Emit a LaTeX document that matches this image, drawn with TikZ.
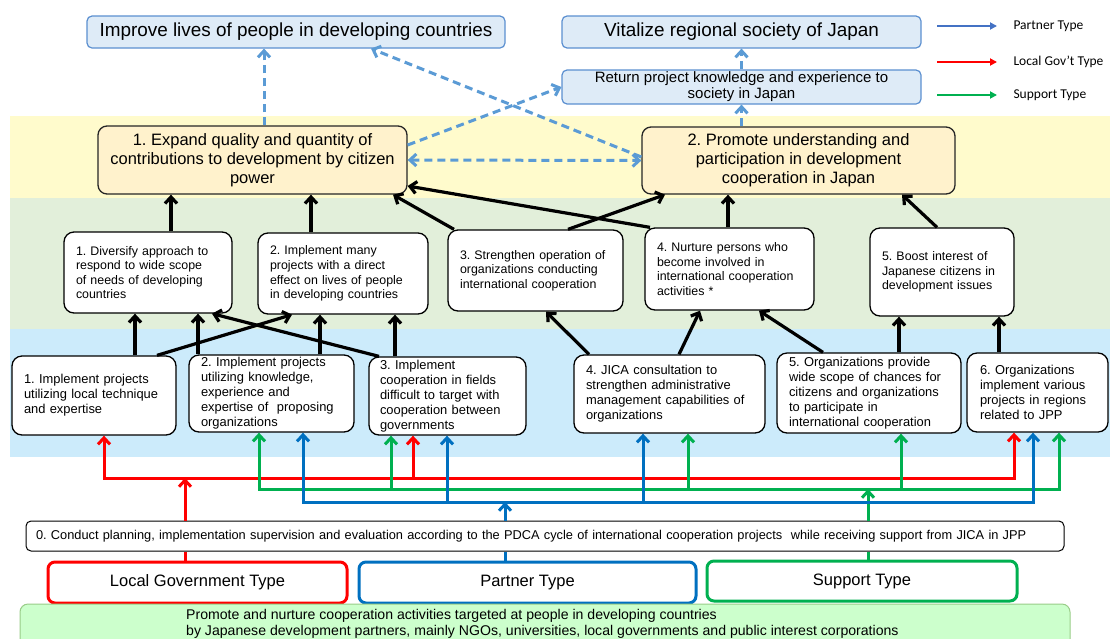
\documentclass[tikz,border=0pt]{standalone}
\usepackage{fontspec}
\setmainfont{Liberation Sans}
\newfontfamily\legfont{Carlito}
\usetikzlibrary{arrows.meta,positioning}
\frenchspacing

\definecolor{dashblue}{HTML}{5B9BD5}
\definecolor{topfill}{HTML}{DEEBF7}
\definecolor{topline}{HTML}{5B8FD0}
\definecolor{goalfill}{HTML}{FFF2CC}
\definecolor{bandyellow}{HTML}{FFFBCC}
\definecolor{bandgreen}{HTML}{E2EFDA}
\definecolor{bandblue}{HTML}{CCEBFB}
\definecolor{jred}{HTML}{FF0000}
\definecolor{jblue}{HTML}{0070C0}
\definecolor{jgreen}{HTML}{00B050}
\definecolor{legblue}{HTML}{4472C4}
\definecolor{botfill}{HTML}{CCFFCC}
\definecolor{botline}{HTML}{99CC88}

\tikzset{
  >={Straight Barb[length=6.5pt,width=12pt]},
  topbox/.style={draw=topline, fill=topfill, rounded corners=5pt, line width=1.2pt, align=center, inner sep=0pt},
  goalbox/.style={draw=black!85, fill=goalfill, rounded corners=9pt, line width=1.3pt, align=center, inner sep=0pt, font=\fontsize{16.5}{19}\selectfont},
  gbox/.style={draw=black, fill=white, rounded corners=10pt, line width=1.3pt, align=left, inner sep=0pt, font=\fontsize{12.4}{14.6}\selectfont},
  bbox/.style={draw=black, fill=white, rounded corners=10pt, line width=1.3pt, align=left, inner sep=0pt, font=\fontsize{12.9}{15}\selectfont},
  typebox/.style={fill=white, rounded corners=7pt, line width=3pt, inner sep=0pt, font=\fontsize{16.5}{19}\selectfont},
  legtext/.style={anchor=west, font=\legfont\fontsize{13.5}{16}\selectfont},
  blk/.style={line width=3.2pt, ->},
  dsh/.style={dashblue, line width=3pt, dash pattern=on 8pt off 5pt, ->},
  rarr/.style={jred, line width=3pt, ->},
  garr/.style={jgreen, line width=3pt, ->},
  barr/.style={jblue, line width=3pt, ->}
}

\begin{document}
\begin{tikzpicture}[x=1pt,y=-1pt]
\useasboundingbox (0,0) rectangle (1110,638);

% bands
\fill[bandyellow] (10,116) rectangle (1110,198);
\fill[bandgreen] (10,198) rectangle (1110,329);
\fill[bandblue] (10,329) rectangle (1110,457);

% top
\node[topbox, minimum width=418pt, minimum height=32pt, font=\fontsize{18.9}{22}\selectfont] (imp) at (296,32) {Improve lives of people in developing countries};
\node[topbox, minimum width=359pt, minimum height=32pt, font=\fontsize{18.9}{22}\selectfont] (vit) at (741.5,32) {Vitalize regional society of Japan};
\node[topbox, minimum width=359pt, minimum height=34pt, font=\fontsize{15}{16}\selectfont] (ret) at (741.5,87) {Return project knowledge and experience to\\society in Japan};

% legend
\coordinate (lp) at (937,26);
\coordinate (ll) at (937,62);
\coordinate (ls) at (937,95);
\node[legtext] (lpt) at (1010,26) {Partner Type};
\node[legtext] (llt) at (1010,62) {Local Gov’t Type};
\node[legtext] (lst) at (1010,95) {Support Type};
\draw[legblue, line width=2pt, -{Triangle[length=7pt,width=7pt]}, shorten >=13pt] (lp) -- (lpt.west);
\draw[jred, line width=2pt, -{Triangle[length=7pt,width=7pt]}, shorten >=13pt] (ll) -- (llt.west);
\draw[jgreen, line width=2pt, -{Triangle[length=7pt,width=7pt]}, shorten >=13pt] (ls) -- (lst.west);

% goals
\node[goalbox, minimum width=309pt, minimum height=68pt] (exp) at (252.5,160) {1. Expand quality and quantity of\\contributions to development by citizen\\power};
\node[goalbox, minimum width=313pt, minimum height=67pt] (pro) at (798.5,160.5) {2. Promote understanding and\\participation in development\\cooperation in Japan};

% middle row
\node[gbox, minimum width=168pt, minimum height=81pt, text width=144pt] (g1) at (148,272.5) {1. Diversify approach to\\respond to wide scope\\of needs of developing\\countries};
\node[gbox, minimum width=170pt, minimum height=81pt, text width=146pt] (g2) at (343,273.5) {2. Implement many\\projects with a direct\\effect on lives of people\\in developing countries};
\node[gbox, minimum width=175pt, minimum height=81pt, text width=151pt] (g3) at (535.5,270.5) {3. Strengthen operation of\\organizations conducting\\international cooperation};
\node[gbox, minimum width=169pt, minimum height=82pt, text width=145pt] (g4) at (729.5,269) {4. Nurture persons who\\become involved in\\international cooperation\\activities *};
\node[gbox, minimum width=144pt, minimum height=88pt, text width=120pt] (g5) at (942,272) {5. Boost interest of\\Japanese citizens in\\development issues};

% lower row
\node[bbox, minimum width=164pt, minimum height=79pt, text width=140pt] (b1) at (94,395.5) {1. Implement projects\\utilizing local technique\\and expertise};
\node[bbox, minimum width=165pt, minimum height=77pt, text width=141pt] (b2) at (271.5,393.5) {2. Implement projects\\utilizing knowledge,\\experience and\\expertise of\ \ proposing\\organizations};
\node[bbox, minimum width=157pt, minimum height=78pt, text width=135pt] (b3) at (447.5,396) {3. Implement\\cooperation in fields\\difficult to target with\\cooperation between\\governments};
\node[bbox, minimum width=191pt, minimum height=78pt, text width=167pt] (b4) at (669.5,394) {4. JICA consultation to\\strengthen administrative\\management capabilities of\\organizations};
\node[bbox, minimum width=184pt, minimum height=80pt, text width=160pt] (b5) at (869,393) {5. Organizations provide\\wide scope of chances for\\citizens and organizations\\to participate in\\international cooperation};
\node[bbox, minimum width=141pt, minimum height=79pt, text width=115pt] (b6) at (1037.5,392.5) {6. Organizations\\implement various\\projects in regions\\related to JPP};

% bottom
\node[draw, fill=white, rounded corners=5pt, line width=1pt, minimum width=1038pt, minimum height=30pt, text width=1018pt, align=left, inner sep=0pt, font=\fontsize{12.8}{14}\selectfont] (pdca) at (545,536) {0. Conduct planning, implementation supervision and evaluation according to the PDCA cycle of international cooperation projects \ while receiving support from JICA in JPP};
\node[typebox, draw=jred, minimum width=299pt, minimum height=41pt] (lg) at (197.5,582.5) {Local Government Type};
\node[typebox, draw=jblue, minimum width=337pt, minimum height=41pt] (pt) at (527.5,582.5) {Partner Type};
\node[typebox, draw=jgreen, minimum width=310pt, minimum height=40pt] (sp) at (862,581) {Support Type};
\draw[botline, fill=botfill, rounded corners=8pt, line width=1pt] (20,604) rectangle (1070,660);
\node[anchor=north west, align=left, inner sep=0pt, font=\fontsize{14.1}{16}\selectfont] (bot) at (186,609.5) {Promote and nurture cooperation activities targeted at people in developing countries\\by Japanese development partners, mainly NGOs, universities, local governments and public interest corporations};

% dashed links
\draw[dsh] (exp.north -| 264,0) -- (imp.south -| 264,0);
\draw[dsh] (pro.west |- 0,157) -- (imp.south -| 371,0);
\draw[dsh, <->] (exp.east) -- (pro.west);
\draw[dsh] (exp.east |- 0,145) -- (ret.west);
\draw[dsh] (pro.north -| ret.south) -- (ret.south);
\draw[dsh] (ret.north) -- (vit.south);

% middle -> goals
\draw[blk] (g1.north -| 171,0) -- (exp.south -| 171,0);
\draw[blk] (g2.north -| 311,0) -- (exp.south -| 311,0);
\draw[blk] (g3.north -| 454,0) -- (exp.south -| 393,0);
\draw[blk] (g4.north -| 650,0) -- (exp.east |- 0,186);
\draw[blk] (g3.north -| 568,0) -- (pro.south -| 665,0);
\draw[blk] (g4.north -| 728,0) -- (pro.south -| 728,0);
\draw[blk] (g5.north -| 937,0) -- (pro.south -| 902,0);

% lower -> middle
\draw[blk] (b1.north -| 135,0) -- (g1.south -| 135,0);
\draw[blk] (b1.north -| 157,0) -- (g2.south -| 292,0);
\draw[blk] (b2.north -| 198,0) -- (g1.south -| 198,0);
\draw[blk] (b2.north -| 320,0) -- (g2.south -| 320,0);
\draw[blk] (b3.north -| 395,0) -- (g2.south -| 395,0);
\draw[blk] (b3.north -| 379,0) -- (g1.south -| 212,0);
\draw[blk] (b4.north -| 589,0) -- (g3.south -| 546,0);
\draw[blk] (b4.north -| 679,0) -- (g4.south -| 700,0);
\draw[blk] (b5.north -| 823,0) -- (g4.south -| 759,0);
\draw[blk] (b5.north -| 899,0) -- (g5.south -| 899,0);
\draw[blk] (b6.north -| 999,0) -- (g5.south -| 999,0);

% type buses
\coordinate (rbus) at (0,478);
\coordinate (gbus) at (0,489);
\coordinate (bbus) at (0,502);

\draw[jred, line width=3pt] (lg.north -| 185,0) -- (pdca.south -| 185,0);
\draw[rarr] (pdca.north -| 185,0) -- (rbus -| 185,0);
\draw[rarr, <->] (b1.south -| 104,0) -- (rbus -| 104,0) -- (rbus -| 1014,0) -- (b6.south -| 1014,0);
\draw[rarr] (rbus -| 413,0) -- (b3.south -| 413,0);

\draw[jgreen, line width=3pt] (sp.north -| 868,0) -- (pdca.south -| 868,0);
\draw[garr] (pdca.north -| 868,0) -- (gbus -| 868,0);
\draw[garr, <->] (b2.south -| 259,0) -- (gbus -| 259,0) -- (gbus -| 1059,0) -- (b6.south -| 1059,0);
\draw[garr] (gbus -| 391,0) -- (b3.south -| 391,0);
\draw[garr] (gbus -| 688,0) -- (b4.south -| 688,0);
\draw[garr] (gbus -| 901,0) -- (b5.south -| 901,0);

\draw[jblue, line width=3pt] (pt.north -| 505,0) -- (pdca.south -| 505,0);
\draw[barr] (pdca.north -| 505,0) -- (bbus -| 505,0);
\draw[barr, <->] (b2.south -| 303,0) -- (bbus -| 303,0) -- (bbus -| 1033,0) -- (b6.south -| 1033,0);
\draw[barr] (bbus -| 447,0) -- (b3.south -| 447,0);
\draw[barr] (bbus -| 643,0) -- (b4.south -| 643,0);
\end{tikzpicture}
\end{document}
